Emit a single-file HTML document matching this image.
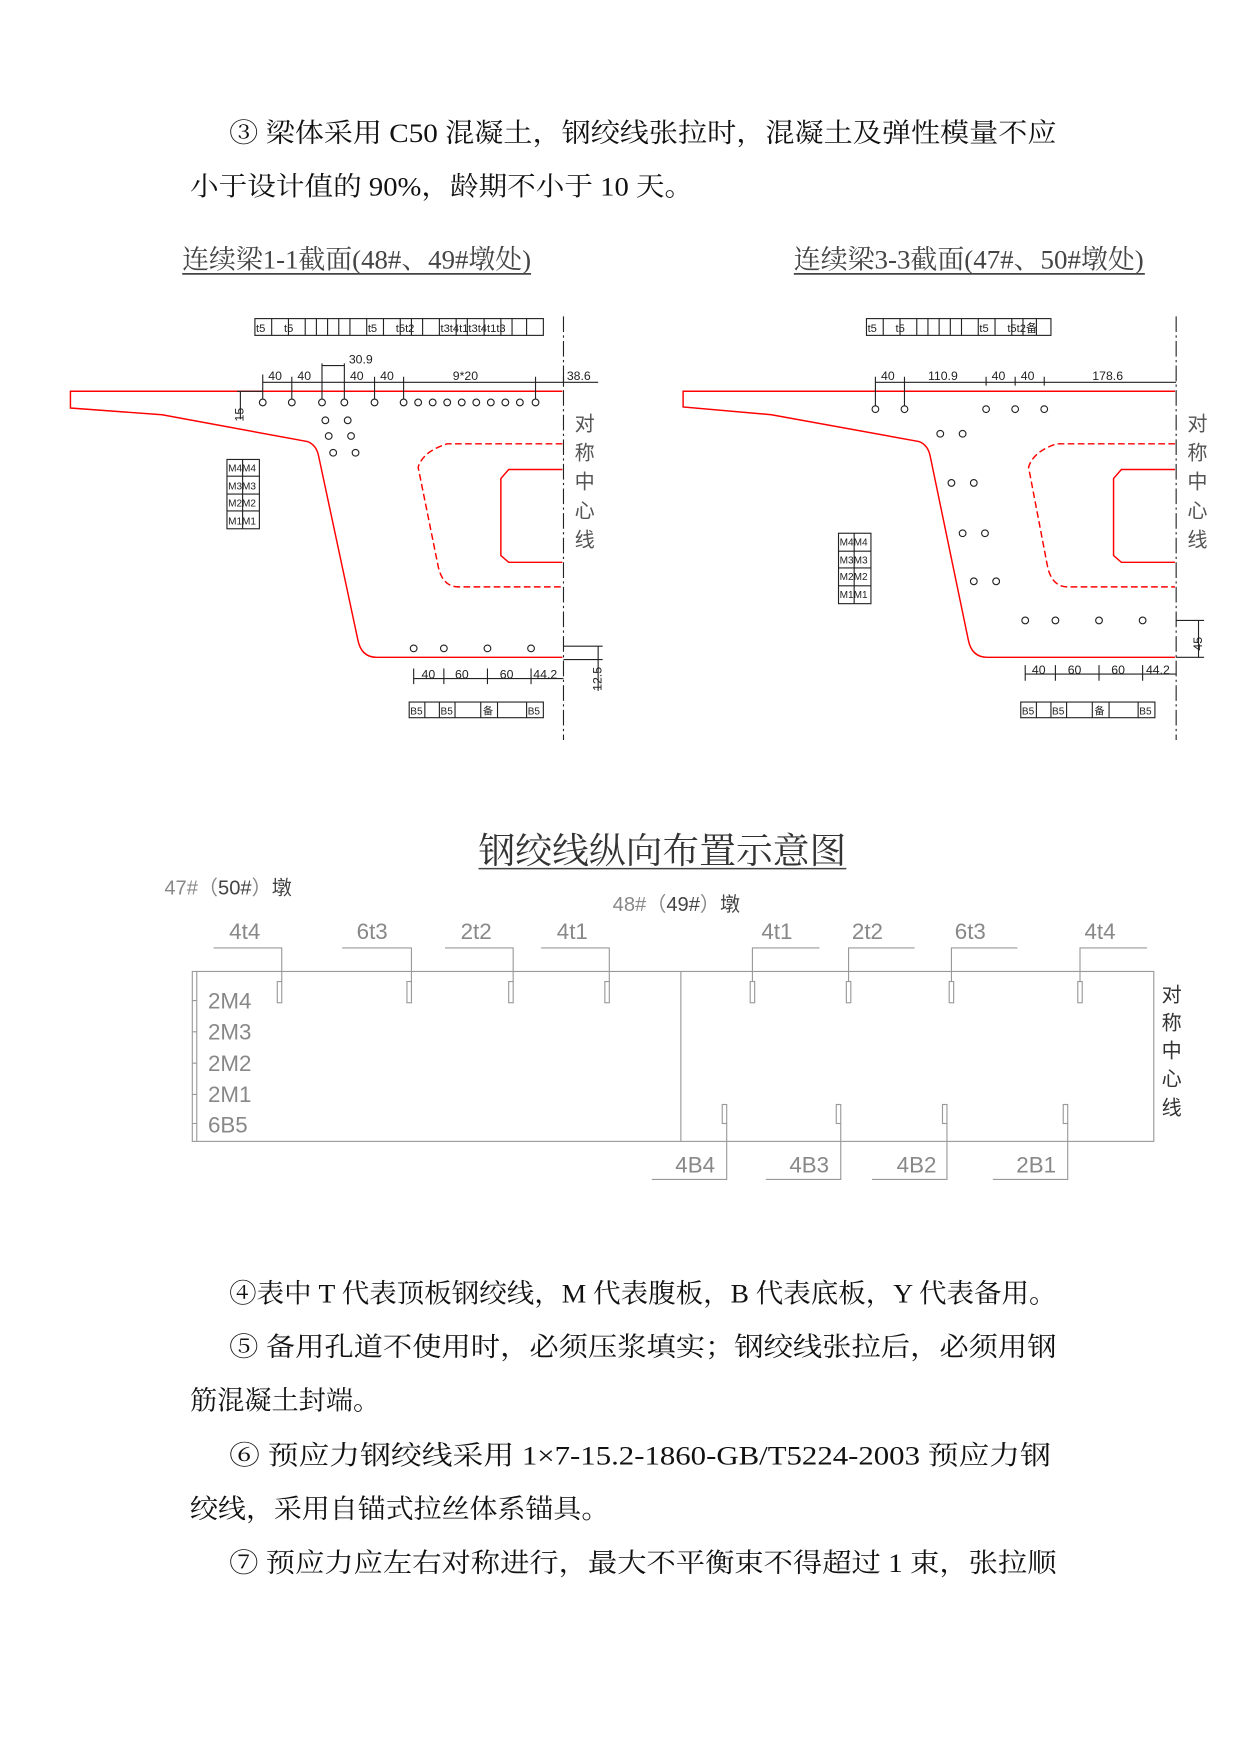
<!DOCTYPE html>
<html><head><meta charset="utf-8"><style>
html,body{margin:0;padding:0;background:#fff}
svg{display:block}
.t{font-family:"Liberation Serif","Noto Serif CJK SC",serif;font-size:24px;fill:#111}
.s{font-family:"Liberation Sans","Noto Sans CJK SC",sans-serif}
.g{font-family:"Liberation Sans","Noto Sans CJK SC",sans-serif;fill:#888;font-size:20px}
.sm{font-family:"Liberation Sans","Noto Sans CJK SC",sans-serif;font-size:11px;fill:#222}
.red{stroke:#f00;fill:none;stroke-width:1.3}
.k{stroke:#222;fill:none;stroke-width:1}
.gl{stroke:#999;fill:none;stroke-width:1}
</style></head><body>
<svg width="1241" height="1754" viewBox="0 0 1110 1569" preserveAspectRatio="none" xmlns="http://www.w3.org/2000/svg">
<text class="t" x="205" y="127" textLength="740" lengthAdjust="spacingAndGlyphs">③ 梁体采用 C50 混凝土，钢绞线张拉时，混凝土及弹性模量不应</text>
<text class="t" x="170" y="175" textLength="450" lengthAdjust="spacingAndGlyphs">小于设计值的 90%，龄期不小于 10 天。</text>

<text class="t" x="163" y="240" style="fill:#444" textLength="312" lengthAdjust="spacingAndGlyphs">连续梁1-1截面(48#、49#墩处)</text>
<line x1="163" y1="245" x2="475" y2="245" stroke="#444" stroke-width="1.5"/>
<text class="t" x="710" y="240" style="fill:#444" textLength="313" lengthAdjust="spacingAndGlyphs">连续梁3-3截面(47#、50#墩处)</text>
<line x1="710" y1="245" x2="1024" y2="245" stroke="#444" stroke-width="1.5"/>

<!-- LEFT SECTION -->
<g>
<path class="red" d="M503,350 H63 V365 L145,371 L275,395 Q283,398 285,408 L320,572 Q323,588 337,588 H503"/>
<path class="red" stroke-dasharray="6,3" d="M503,397 H400 Q378,404 374,418 L392,507 Q396,525 410,525 H503"/>
<path class="red" d="M503,420 H455 L448,428 V497 L455,503 H503"/>
<line x1="504" y1="283" x2="504" y2="662" class="k" stroke-dasharray="14,3,2,3"/>
<g class="k">
<circle cx="235" cy="360" r="3"/><circle cx="261" cy="360" r="3"/><circle cx="288" cy="360" r="3"/><circle cx="308" cy="360" r="3"/><circle cx="335" cy="360" r="3"/><circle cx="361" cy="360" r="3"/><circle cx="374" cy="360" r="3"/><circle cx="387" cy="360" r="3"/><circle cx="400" cy="360" r="3"/><circle cx="413" cy="360" r="3"/><circle cx="426" cy="360" r="3"/><circle cx="439" cy="360" r="3"/><circle cx="452" cy="360" r="3"/><circle cx="465" cy="360" r="3"/><circle cx="479" cy="360" r="3"/>
<circle cx="291" cy="376" r="3"/><circle cx="311" cy="376" r="3"/><circle cx="294" cy="390" r="3"/><circle cx="314" cy="390" r="3"/><circle cx="298" cy="405" r="3"/><circle cx="318" cy="405" r="3"/>
<circle cx="370" cy="580" r="3"/><circle cx="397" cy="580" r="3"/><circle cx="436" cy="580" r="3"/><circle cx="475" cy="580" r="3"/>
<path d="M235,342 H535 M235,335 V357 M261,337 V357 M288,325 V357 M308,325 V357 M335,337 V357 M361,337 V357 M479,337 V357 M504,337 V345 M288,327 H308"/>
<path d="M215,350 V375 M212,350 H235"/>
<path d="M370,598 V612 M370,607 H504 M397,598 V612 M436,598 V612 M475,598 V612"/>
<path d="M504,578 H539 M504,590 H539 M535,578 V618"/>
<rect x="228" y="285" width="258" height="15"/>
<path d="M243,285V300M258,285V300M273,285V300M283,285V300M293,285V300M303,285V300M313,285V300M328,285V300M343,285V300M358,285V300M368,285V300M378,285V300M393,285V300M408,285V300M418,285V300M433,285V300M448,285V300M458,285V300M471,285V300"/>
<rect x="203" y="411" width="29" height="62"/><path d="M217,411V473M203,426H232M203,442H232M203,457H232"/>
<rect x="366" y="628" width="120" height="14"/><path d="M380,628V642M393,628V642M407,628V642M430,628V642M445,628V642M471,628V642"/>
</g>
<g class="sm">
<text x="240" y="340">40</text><text x="266" y="340">40</text><text x="312" y="325">30.9</text><text x="313" y="340">40</text><text x="340" y="340">40</text><text x="405" y="340">9*20</text><text x="507" y="340">38.6</text>
<text x="0" y="0" transform="translate(218,377) rotate(-90)">15</text>
<text x="377" y="607">40</text><text x="407" y="607">60</text><text x="447" y="607">60</text><text x="477" y="607">44.2</text>
<text x="0" y="0" transform="translate(538,618) rotate(-90)">12.5</text>
<text x="229" y="297" font-size="10">t5</text><text x="254" y="297" font-size="10">t5</text><text x="329" y="297" font-size="10">t5</text><text x="354" y="297" font-size="10">t5t2</text><text x="394" y="297" font-size="10">t3t4t1t3t4t1t3</text>
<text x="204" y="422" font-size="9">M4M4</text><text x="204" y="438" font-size="9">M3M3</text><text x="204" y="453" font-size="9">M2M2</text><text x="204" y="469" font-size="9">M1M1</text>
<text x="367" y="639" font-size="9">B5</text><text x="394" y="639" font-size="9">B5</text><text x="432" y="639" font-size="9">备</text><text x="472" y="639" font-size="9">B5</text>
</g>
<g class="s" font-size="18" fill="#555">
<text x="514" y="385">对</text><text x="514" y="411">称</text><text x="514" y="437">中</text><text x="514" y="463">心</text><text x="514" y="489">线</text>
</g>
</g>

<!-- RIGHT SECTION -->
<g>
<path class="red" d="M1051,350 H611 V364 L690,371 L822,395 Q830,398 832,408 L866,572 Q869,588 883,588 H1051"/>
<path class="red" stroke-dasharray="6,3" d="M1051,397 H945 Q924,404 920,418 L937,507 Q941,525 955,525 H1051"/>
<path class="red" d="M1051,420 H1003 L996,428 V497 L1003,503 H1051"/>
<line x1="1052" y1="283" x2="1052" y2="662" class="k" stroke-dasharray="14,3,2,3"/>
<g class="k">
<circle cx="783" cy="366" r="3"/><circle cx="809" cy="366" r="3"/><circle cx="882" cy="366" r="3"/><circle cx="908" cy="366" r="3"/><circle cx="934" cy="366" r="3"/>
<circle cx="841" cy="388" r="3"/><circle cx="861" cy="388" r="3"/><circle cx="851" cy="432" r="3"/><circle cx="871" cy="432" r="3"/><circle cx="861" cy="477" r="3"/><circle cx="881" cy="477" r="3"/><circle cx="871" cy="520" r="3"/><circle cx="891" cy="520" r="3"/>
<circle cx="917" cy="555" r="3"/><circle cx="944" cy="555" r="3"/><circle cx="983" cy="555" r="3"/><circle cx="1022" cy="555" r="3"/>
<path d="M783,342 H1052 M783,337 V363 M809,337 V363 M882,337 V345 M908,337 V345 M934,337 V345"/>
<path d="M1052,555 H1077 M1052,588 H1077 M1072,555 V588"/>
<path d="M917,595 V609 M917,603 H1052 M944,595 V609 M983,595 V609 M1022,595 V609"/>
<rect x="775" y="285" width="165" height="15"/>
<path d="M790,285V300M805,285V300M820,285V300M830,285V300M840,285V300M850,285V300M860,285V300M875,285V300M890,285V300M905,285V300M915,285V300M927,285V300"/>
<rect x="750" y="477" width="29" height="63"/><path d="M764,477V540M750,493H779M750,508H779M750,524H779"/>
<rect x="913" y="628" width="120" height="14"/><path d="M927,628V642M940,628V642M954,628V642M977,628V642M992,628V642M1018,628V642"/>
</g>
<g class="sm">
<text x="788" y="340">40</text><text x="830" y="340">110.9</text><text x="887" y="340">40</text><text x="913" y="340">40</text><text x="977" y="340">178.6</text>
<text x="0" y="0" transform="translate(1075,582) rotate(-90)">45</text>
<text x="923" y="603">40</text><text x="955" y="603">60</text><text x="994" y="603">60</text><text x="1025" y="603">44.2</text>
<text x="776" y="297" font-size="10">t5</text><text x="801" y="297" font-size="10">t5</text><text x="876" y="297" font-size="10">t5</text><text x="901" y="297" font-size="10">t5t2备</text>
<text x="751" y="488" font-size="9">M4M4</text><text x="751" y="504" font-size="9">M3M3</text><text x="751" y="519" font-size="9">M2M2</text><text x="751" y="535" font-size="9">M1M1</text>
<text x="914" y="639" font-size="9">B5</text><text x="941" y="639" font-size="9">B5</text><text x="979" y="639" font-size="9">备</text><text x="1019" y="639" font-size="9">B5</text>
</g>
<g class="s" font-size="18" fill="#555">
<text x="1062" y="385">对</text><text x="1062" y="411">称</text><text x="1062" y="437">中</text><text x="1062" y="463">心</text><text x="1062" y="489">线</text>
</g>
</g>

<!-- Longitudinal diagram -->
<text class="t" x="428" y="772" style="font-size:32px;fill:#333" textLength="329" lengthAdjust="spacingAndGlyphs">钢绞线纵向布置示意图</text>
<line x1="428" y1="777" x2="757" y2="777" stroke="#444" stroke-width="1.3"/>
<text x="147" y="800" class="s" font-size="18" fill="#888">47#（<tspan fill="#444">50#</tspan>）<tspan fill="#444">墩</tspan></text>
<text x="548" y="815" class="s" font-size="18" fill="#888">48#（<tspan fill="#444">49#</tspan>）<tspan fill="#444">墩</tspan></text>
<g class="gl">
<rect x="172" y="869" width="860" height="152"/>
<line x1="176" y1="869" x2="176" y2="1021"/>
<line x1="609" y1="869" x2="609" y2="1021"/>
<path d="M172,895H176M172,923H176M172,951H176M172,979H176M172,1005H176"/>
<path d="M191,848H252V878 M306,848H368V878 M398,848H459V878 M484,848H545V878"/>
<rect x="248" y="878" width="4" height="19"/><rect x="364" y="878" width="4" height="19"/><rect x="455" y="878" width="4" height="19"/><rect x="541" y="878" width="4" height="19"/>
<path d="M733,848H673V878 M818,848H759V878 M910,848H851V878 M1026,848H966V878"/>
<rect x="671" y="878" width="4" height="19"/><rect x="757" y="878" width="4" height="19"/><rect x="849" y="878" width="4" height="19"/><rect x="964" y="878" width="4" height="19"/>
<path d="M583,1055H650V1005 M685,1055H752V1005 M780,1055H847V1005 M888,1055H955V1005"/>
<rect x="646" y="988" width="4" height="17"/><rect x="748" y="988" width="4" height="17"/><rect x="843" y="988" width="4" height="17"/><rect x="951" y="988" width="4" height="17"/>
</g>
<g class="g">
<text x="205" y="840">4t4</text><text x="319" y="840">6t3</text><text x="412" y="840">2t2</text><text x="498" y="840">4t1</text>
<text x="681" y="840">4t1</text><text x="762" y="840">2t2</text><text x="854" y="840">6t3</text><text x="970" y="840">4t4</text>
<text x="186" y="902">2M4</text><text x="186" y="930">2M3</text><text x="186" y="958">2M2</text><text x="186" y="986">2M1</text><text x="186" y="1013">6B5</text>
<text x="604" y="1049">4B4</text><text x="706" y="1049">4B3</text><text x="802" y="1049">4B2</text><text x="909" y="1049">2B1</text>
</g>
<g class="s" font-size="18" fill="#333">
<text x="1039" y="896">对</text><text x="1039" y="921">称</text><text x="1039" y="946">中</text><text x="1039" y="971">心</text><text x="1039" y="997">线</text>
</g>

<text class="t" x="205" y="1165" textLength="740" lengthAdjust="spacingAndGlyphs">④表中 T 代表顶板钢绞线，M 代表腹板，B 代表底板，Y 代表备用。</text>
<text class="t" x="205" y="1213" textLength="740" lengthAdjust="spacingAndGlyphs">⑤ 备用孔道不使用时，必须压浆填实；钢绞线张拉后，必须用钢</text>
<text class="t" x="170" y="1261" textLength="170" lengthAdjust="spacingAndGlyphs">筋混凝土封端。</text>
<text class="t" x="205" y="1310" textLength="735" lengthAdjust="spacingAndGlyphs">⑥ 预应力钢绞线采用 1×7-15.2-1860-GB/T5224-2003 预应力钢</text>
<text class="t" x="170" y="1358" textLength="375" lengthAdjust="spacingAndGlyphs">绞线，采用自锚式拉丝体系锚具。</text>
<text class="t" x="205" y="1406" textLength="740" lengthAdjust="spacingAndGlyphs">⑦ 预应力应左右对称进行，最大不平衡束不得超过 1 束，张拉顺</text>
</svg>
</body></html>
